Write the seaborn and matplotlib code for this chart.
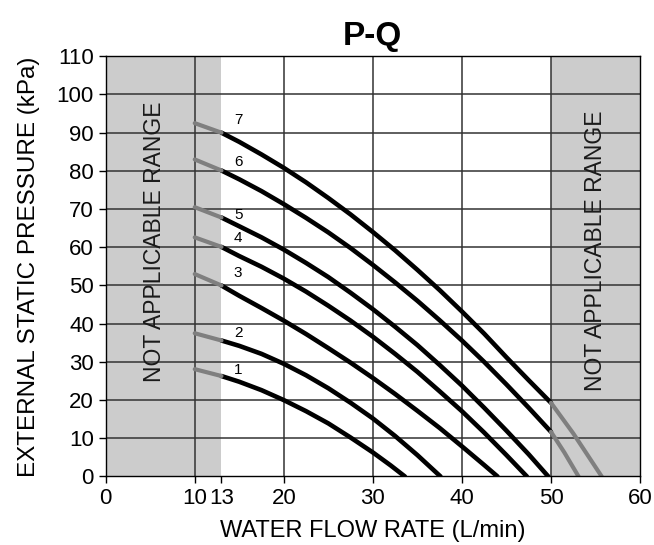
import matplotlib
matplotlib.use("Agg")
import matplotlib.pyplot as plt
import numpy as np
import pandas as pd
import seaborn as sns

sns.set_style("white")
plt.rcParams['font.family'] = ['Liberation Sans', 'DejaVu Sans']
plt.rcParams['text.color'] = 'black'
plt.rcParams['axes.labelcolor'] = 'black'
plt.rcParams['xtick.color'] = 'black'
plt.rcParams['ytick.color'] = 'black'

# curve data (flow L/min, pressure kPa)
flow_1 = [10, 13, 15, 17.5, 20, 22.5, 25, 27.5, 30, 32, 33.6]
pres_1 = [28.1, 26.3, 24.8, 22.6, 20.0, 17.1, 13.9, 10.2, 6.3, 2.9, 0]

flow_2 = [10, 13, 15, 17.5, 20, 22.5, 25, 27.5, 30, 32.5, 35, 37.6]
pres_2 = [37.5, 35.6, 34.2, 32.1, 29.5, 26.5, 23.1, 19.3, 15.2, 10.6, 5.6, 0]

flow_3 = [10, 13, 15, 17.5, 20, 22.5, 25, 27.5, 30, 32.5, 35, 37.5, 40, 42.5, 44]
pres_3 = [53.0, 50.0, 47.3, 44.1, 40.8, 37.3, 33.6, 29.8, 25.8, 21.6, 17.2, 12.7, 7.9, 3.0, 0]

flow_4 = [10, 13, 15, 17.5, 20, 22.5, 25, 27.5, 30, 32.5, 35, 37.5, 40, 42.5, 45, 47.3]
pres_4 = [62.6, 60.1, 57.7, 54.9, 51.8, 48.4, 44.7, 40.8, 36.6, 32.1, 27.4, 22.3, 17.1, 11.5, 5.6, 0]

flow_5 = [10, 13, 15, 17.5, 20, 22.5, 25, 27.5, 30, 32.5, 35, 37.5, 40, 42.5, 45, 47.5, 49.7]
pres_5 = [70.5, 67.8, 65.5, 62.6, 59.4, 55.9, 52.2, 48.1, 43.8, 39.2, 34.4, 29.2, 23.8, 18.0, 12.0, 5.8, 0]

flow_6 = [10, 13, 15, 17.5, 20, 22.5, 25, 27.5, 30, 32.5, 35, 37.5, 40, 42.5, 45, 47.5, 50, 51.5, 53.1]
pres_6 = [83.0, 80.1, 77.8, 74.7, 71.3, 67.7, 63.9, 59.8, 55.4, 50.8, 46.0, 40.9, 35.6, 30.0, 24.1, 18.0, 11.7, 6.3, 0]

flow_7 = [10, 13, 15, 17.5, 20, 22.5, 25, 27.5, 30, 32.5, 35, 37.5, 40, 42.5, 45, 47.5, 50, 52.5, 55.7]
pres_7 = [92.5, 90.0, 87.6, 84.3, 80.8, 77.0, 72.9, 68.6, 64.0, 59.2, 54.1, 48.8, 43.2, 37.4, 31.2, 25.2, 19.3, 11.3, 0]

curve_names = ['1', '2', '3', '4', '5', '6', '7']
label_y = [27.9, 37.5, 53.4, 62.4, 68.5, 82.4, 93.3]
label_x = 14.4

x_ticks = [0, 10, 13, 20, 30, 40, 50, 60]
y_ticks = list(range(0, 111, 10))

lo_limit = 13   # below this: not applicable
hi_limit = 50   # above this: not applicable

flows = [flow_1, flow_2, flow_3, flow_4, flow_5, flow_6, flow_7]
pressures = [pres_1, pres_2, pres_3, pres_4, pres_5, pres_6, pres_7]

rows = []
for name, fl, pr in zip(curve_names, flows, pressures):
    for f, p in zip(fl, pr):
        rows.append({'curve': name, 'flow': f, 'pressure': p})
df = pd.DataFrame(rows)

fig = plt.figure(figsize=(6.54, 5.45), dpi=100)
ax = fig.add_axes([0.1616, 0.1257, 0.817, 0.771])

# shaded not-applicable ranges
ax.axvspan(0, lo_limit, facecolor='#CCCCCC', edgecolor='none', zorder=0)
ax.axvspan(hi_limit, 60, facecolor='#CCCCCC', edgecolor='none', zorder=0)

for v in [10, 20, 30, 40, 50]:
    ax.axvline(v, color='#333333', lw=1.1, zorder=1)
for h in y_ticks[1:]:
    ax.axhline(h, color='#333333', lw=1.1, zorder=1)

left_part = df[df['flow'] <= lo_limit]
mid_part = df[(df['flow'] >= lo_limit) & (df['flow'] <= hi_limit)]
right_part = df[df['flow'] >= hi_limit]
right_part = right_part[right_part['curve'].map(right_part['curve'].value_counts()) > 1]

black = {n: 'black' for n in curve_names}
grey = {n: '#7f7f7f' for n in curve_names}

sns.lineplot(data=mid_part, x='flow', y='pressure', hue='curve', palette=black,
             estimator=None, sort=False, legend=False, lw=3.3, ax=ax, zorder=3)
sns.lineplot(data=left_part, x='flow', y='pressure', hue='curve', palette=grey,
             estimator=None, sort=False, legend=False, lw=3.0, ax=ax, zorder=3)
sns.lineplot(data=right_part, x='flow', y='pressure', hue='curve', palette=grey,
             estimator=None, sort=False, legend=False, lw=3.0, ax=ax, zorder=3)

for name, ly in zip(curve_names, label_y):
    ax.text(label_x, ly, name, fontsize=11, ha='left', va='center', zorder=4)

ax.text(5.5, 61.5, 'NOT APPLICABLE RANGE', rotation=90, fontsize=16.5,
        ha='center', va='center', color='#1a1a1a', zorder=2)
ax.text(55, 59, 'NOT APPLICABLE RANGE', rotation=90, fontsize=16.5,
        ha='center', va='center', color='#1a1a1a', zorder=2)

ax.set_xlim(0, 60)
ax.set_ylim(0, 110)
ax.set_xticks(x_ticks)
ax.set_yticks(y_ticks)
ax.tick_params(axis='both', direction='out', length=5, width=1, labelsize=16,
               color='black', bottom=True, left=True)
for s in ax.spines.values():
    s.set_color('black')
    s.set_linewidth(1)
    s.set_zorder(5)

ax.set_title('P-Q', fontsize=24, fontweight='bold', pad=8)
ax.set_xlabel('WATER FLOW RATE (L/min)', fontsize=17, labelpad=8)
ax.set_ylabel('EXTERNAL STATIC PRESSURE (kPa)', fontsize=17.5, labelpad=12)

fig.savefig('out.png', dpi=100)
